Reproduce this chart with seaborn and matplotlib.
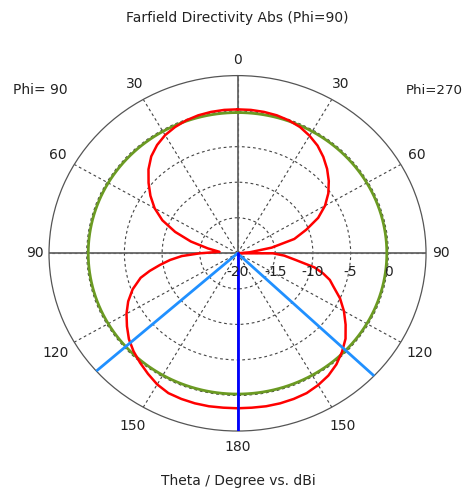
import numpy as np
import pandas as pd
import matplotlib
matplotlib.use("Agg")
import matplotlib.pyplot as plt
import matplotlib.transforms as mtransforms
import seaborn as sns

sns.set_theme(style="white")
plt.rcParams["font.family"] = ["DejaVu Sans"]

# ---- data (dBi) ----
# Phi = 90 cut, theta 0..180 (left half of the plot)
theta_phi90 = [0, 5, 10, 15, 20, 25, 30, 35, 40, 45, 50, 55, 60, 65, 70, 75, 80, 85,
               90, 93, 96, 99, 102, 105, 110, 115, 120, 125, 130, 135, 140, 145,
               150, 155, 160, 165, 170, 175, 180]
dir_phi90 = [0.25, 0.25, 0.2, 0.1, -0.1, -0.4, -0.8, -1.4, -2.2, -3.3, -4.6, -5.9,
             -7.3, -9.0, -11.2, -13.6, -16.0, -17.6,
             -15.0, -12.6, -11.0, -9.6, -8.1, -6.7, -5.2, -4.0, -3.0, -2.1, -1.2,
             -0.5, 0.1, 0.7, 1.3, 1.7, 1.8, 1.85, 1.85, 1.8, 1.8]

# Phi = 270 cut, theta 180..0 (right half of the plot)
theta_phi270 = [180, 175, 170, 165, 160, 155, 150, 145, 140, 135, 130, 125, 120,
                115, 110, 107, 104, 101, 97, 93, 90, 89, 85, 80, 75, 70, 65, 60, 55,
                50, 45, 40, 35, 30, 25, 20, 15, 10, 5, 0]
dir_phi270 = [1.8, 1.8, 1.85, 1.85, 1.8, 1.7, 1.4, 1.0, 0.4, -0.4, -1.3, -2.5,
              -3.7, -5.0, -6.5, -7.2, -8.3, -9.6, -12.2, -13.8, -15.3, -20.0, -18.4,
              -15.4, -12.2, -10.3, -8.2, -6.6, -5.3, -4.2, -3.2, -2.3, -1.5,
              -0.9, -0.4, -0.1, 0.1, 0.2, 0.25, 0.25]

green_level = -0.2           # reference circle level (dBi)
main_lobe_dir = 180          # main lobe direction (deg)
beam_edges = [131.5, 226.4]  # 3 dB angular width limits (deg, plot angle)
r_min, r_max = -20, 5
theta_ticks = [0, 30, 60, 90, 120, 150, 180, 210, 240, 270, 300, 330]
theta_labels = ["0", "30", "60", "90", "120", "150", "180", "150", "120", "90", "60", "30"]
r_ticks = [-20, -15, -10, -5, 0]
r_labels = ["-20", "-15", "-10", "-5", "0"]

# ---- build tables ----
angles_deg = list(theta_phi90) + [360 - t for t in theta_phi270]
values = list(dir_phi90) + list(dir_phi270)
pattern = pd.DataFrame({"ang": np.deg2rad(angles_deg), "dbi": values})

ref_ang = np.deg2rad(np.arange(0, 361, 1))
ref = pd.DataFrame({"ang": ref_ang, "dbi": np.full(ref_ang.shape, green_level)})

FS = 10
TXT = "#222222"

# ---- figure ----
fig = plt.figure(figsize=(4.65, 4.98), dpi=100)
ax = fig.add_axes([0.1054, 0.1345, 0.8108, 0.7137], projection="polar")
ax.set_aspect("auto")
ax.set_theta_zero_location("N")
ax.set_theta_direction(1)
ax.set_ylim(r_min, r_max)
ax.set_facecolor("white")

ax.set_xticks(np.deg2rad(theta_ticks))
ax.set_xticklabels([])
ax.set_yticks(r_ticks)
ax.set_yticklabels([])

ax.grid(True, color="#444444", linestyle=(0, (2.5, 2.5)), linewidth=0.8)
ax.spines["polar"].set_color("#555555")
ax.spines["polar"].set_linewidth(0.9)

# solid axis lines through the centre
for a in [0, 90, 180, 270]:
    ax.plot(np.deg2rad([a, a]), [r_min, r_max], color="#666666", lw=1.3, zorder=2)

sns.lineplot(data=ref, x="ang", y="dbi", ax=ax, color="#6b9a22", lw=2,
             sort=False, estimator=None, zorder=3)
sns.lineplot(data=pattern, x="ang", y="dbi", ax=ax, color="#ff0000", lw=1.8,
             sort=False, estimator=None, zorder=4)
for b in beam_edges:
    ax.plot(np.deg2rad([b, b]), [r_min, r_max], color="#2090ff", lw=2, zorder=5)
ax.plot(np.deg2rad([main_lobe_dir, main_lobe_dir]), [r_min, r_max],
        color="#0000ff", lw=2, zorder=6)

# angle labels outside the outer ring (gap in pixels depends on label width)
gap_px = {"0": 15.5, "30": 18.0, "60": 18.5, "90": 14.5, "120": 22.0,
          "150": 21.5, "180": 15.5}
for a, lab in zip(theta_ticks, theta_labels):
    d = gap_px[lab] / 100.0
    rad = np.deg2rad(a)
    off = mtransforms.ScaledTranslation(-np.sin(rad) * d, np.cos(rad) * d,
                                        fig.dpi_scale_trans)
    ax.text(rad, r_max, lab, transform=ax.transData + off, ha="center",
            va="center", fontsize=FS, color=TXT, clip_on=False)

# radial scale labels just below the horizontal axis (right side)
below = ax.transData + mtransforms.ScaledTranslation(0, -19 / 100, fig.dpi_scale_trans)
for rv, lab in zip(r_ticks, r_labels):
    ax.text(np.deg2rad(270), rv, lab, transform=below, ha="center", va="center",
            fontsize=FS, color=TXT, zorder=7)

ax.set_xlabel("")
ax.set_ylabel("")

fig.text(237 / 465, 1 - 18 / 498, "Farfield Directivity Abs (Phi=90)",
         ha="center", va="center", fontsize=FS, color=TXT)
fig.text(13 / 465, 1 - 90 / 498, "Phi= 90", ha="left", va="center",
         fontsize=FS, color=TXT)
fig.text(406 / 465, 1 - 90 / 498, "Phi=270", ha="left", va="center",
         fontsize=9.6, color=TXT)
fig.text(238 / 465, 1 - 481 / 498, "Theta / Degree vs. dBi", ha="center",
         va="center", fontsize=FS, color=TXT)

fig.savefig("out.png", dpi=100, facecolor="white")
